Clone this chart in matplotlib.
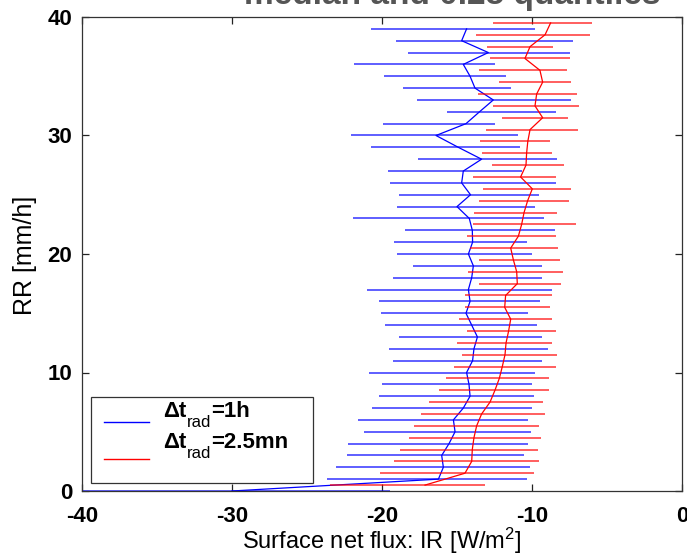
import matplotlib
matplotlib.use("Agg")
import matplotlib.pyplot as plt
from matplotlib.patches import Rectangle
from matplotlib.lines import Line2D

plt.rcParams['font.family'] = ['Liberation Sans', 'DejaVu Sans']
plt.rcParams['mathtext.fontset'] = 'custom'
plt.rcParams['mathtext.rm'] = 'Liberation Sans'
plt.rcParams['mathtext.it'] = 'Liberation Sans'
plt.rcParams['mathtext.bf'] = 'Liberation Sans:bold'

# ---- data: dt_rad = 1h (blue) ----
rr_1h = [0, 1, 2, 3, 4, 5, 6, 7, 8, 9, 10, 11, 12, 13, 14, 15, 16, 17, 18, 19,
         20, 21, 22, 23, 24, 25, 26, 27, 28, 29, 30, 31, 32, 33, 34, 35, 36, 37, 38, 39]
med_1h = [-30.0, -16.24, -15.91, -16.02, -15.53, -15.13, -15.24, -14.58, -14.13, -14.2,
          -14.36, -13.96, -13.87, -13.64, -14.02, -14.4, -14.13, -14.24, -14.02, -13.91,
          -14.24, -13.96, -13.98, -14.18, -15.0, -14.1, -14.69, -14.58, -13.36, -14.91,
          -16.4, -14.4, -13.5, -12.58, -13.8, -14.13, -14.58, -12.91, -14.69, -14.36]
q25_1h = [-46.0, -23.69, -23.07, -22.33, -22.24, -21.22, -21.58, -20.67, -20.2, -20.02,
          -20.84, -19.27, -19.56, -18.89, -19.82, -20.09, -20.18, -21.02, -19.27, -17.96,
          -19.0, -19.18, -18.44, -21.96, -19.0, -18.89, -19.44, -19.62, -17.58, -20.73,
          -22.09, -19.91, -15.69, -17.7, -18.62, -19.9, -21.84, -18.24, -19.09, -20.73]
q75_1h = [-19.5, -10.36, -10.16, -10.53, -10.24, -10.07, -10.24, -9.98, -9.89, -9.98,
          -9.78, -9.33, -8.96, -9.33, -9.69, -10.24, -9.44, -8.69, -9.33, -9.33,
          -9.98, -10.36, -8.49, -9.22, -9.78, -9.51, -8.42, -10.69, -8.36, -10.8,
          -10.91, -12.47, -8.4, -7.4, -11.4, -11.73, -12.47, -7.47, -7.24, -9.8]

# ---- data: dt_rad = 2.5mn (red) ----
rr_25mn = [0.5, 1.5, 2.5, 3.5, 4.5, 5.5, 6.5, 7.5, 8.5, 9.5, 10.5, 11.5, 12.5, 13.5,
           14.5, 15.5, 16.5, 17.5, 18.5, 19.5, 20.5, 21.5, 22.5, 23.5, 24.5, 25.5,
           26.5, 27.5, 28.5, 29.5, 30.5, 31.5, 32.5, 33.5, 34.5, 35.5, 36.5, 37.5,
           38.5, 39.5]
med_25mn = [-17.13, -14.47, -14.02, -13.98, -13.87, -13.69, -13.36, -12.8, -12.47, -12.18,
            -11.98, -11.8, -11.73, -11.56, -11.42, -11.82, -11.76, -10.98, -11.02, -11.24,
            -11.42, -10.91, -10.69, -10.53, -10.29, -9.98, -10.76, -10.4, -10.36, -10.28,
            -10.13, -9.29, -9.8, -9.69, -9.29, -9.47, -10.47, -10.13, -9.13, -8.76]
q25_25mn = [-23.47, -20.11, -19.18, -18.82, -18.18, -17.89, -17.42, -16.87, -16.22, -15.76,
            -15.22, -14.67, -15.02, -14.36, -14.84, -14.47, -14.47, -13.53, -14.29, -13.53,
            -14.13, -14.31, -13.91, -13.84, -13.53, -13.27, -13.91, -12.69, -13.36, -13.47,
            -13.07, -11.98, -12.62, -13.58, -12.18, -13.53, -12.8, -12.98, -13.73, -12.62]
q75_25mn = [-13.13, -9.89, -9.51, -9.6, -9.42, -9.51, -9.13, -9.24, -8.87, -8.87,
            -8.42, -8.31, -8.69, -8.4, -8.69, -8.8, -8.69, -8.04, -7.96, -8.13,
            -8.24, -8.42, -7.04, -8.33, -7.51, -7.4, -8.42, -7.87, -8.69, -8.8,
            -6.96, -7.58, -6.84, -7.02, -7.4, -7.69, -7.47, -8.58, -6.13, -6.02]

xticks = [-40, -30, -20, -10, 0]
yticks = [0, 10, 20, 30, 40]

blue = '#0000ff'
red = '#ff0000'
W, H = 687, 556

fig = plt.figure(figsize=(W / 100, H / 100), dpi=100)
ax = fig.add_axes([82 / W, 1 - 491 / H, 600 / W, 474 / H])

ax.hlines(rr_1h, q25_1h, q75_1h, color=blue, lw=1.1, alpha=0.8)
ax.plot(med_1h, rr_1h, color=blue, lw=0.9)
ax.hlines(rr_25mn, q25_25mn, q75_25mn, color=red, lw=1.1, alpha=0.8)
ax.plot(med_25mn, rr_25mn, color=red, lw=0.9)

ax.set_xlim(-40, 0)
ax.set_ylim(0, 40)
ax.set_xticks(xticks)
ax.set_yticks(yticks)
ax.set_xticklabels([str(t) for t in xticks], fontweight='bold')
ax.set_yticklabels([str(t) for t in yticks], fontweight='bold')
ax.tick_params(direction='in', top=True, right=True, length=5, width=0.9,
               labelsize=16, color='#222222')
ax.tick_params(axis='x', pad=11)
ax.tick_params(axis='y', pad=7)
for s in ax.spines.values():
    s.set_color('#333333')
    s.set_linewidth(0.9)


def px(x, y):
    return x / W, 1 - y / H


# axis labels placed like the reference
fig.text(*px(382, 549), 'Surface net flux: IR [W/m$^2$]', fontsize=17,
         ha='center', va='baseline')
fig.text(*px(25, 255), 'RR [mm/h]', fontsize=18, rotation=90,
         ha='center', va='center')

# legend (manual, MATLAB-like)
ax.add_patch(Rectangle((0.015, 0.017), 0.37, 0.181, transform=ax.transAxes,
                       facecolor='white', edgecolor='#333333', lw=0.9, zorder=5))
ax.add_line(Line2D([0.037, 0.112], [0.146, 0.146], transform=ax.transAxes,
                   color=blue, lw=1.0, zorder=6))
ax.add_line(Line2D([0.037, 0.112], [0.0675, 0.0675], transform=ax.transAxes,
                   color=red, lw=1.0, zorder=6))
for base, rest in [(417, '=1h'), (448, '=2.5mn')]:
    fig.text(*px(163, base), '\u0394t', fontsize=16, fontweight='bold',
             ha='left', va='baseline', zorder=7)
    fig.text(*px(187, base + 10), 'rad', fontsize=12,
             ha='left', va='baseline', zorder=7)
    fig.text(*px(211, base), rest, fontsize=16, fontweight='bold',
             ha='left', va='baseline', zorder=7)

fig.text(*px(452, 4), 'median and 0.25 quantiles', fontsize=24,
         fontweight='bold', color='#555555', ha='center', va='baseline')

fig.savefig('out.png', dpi=100)
